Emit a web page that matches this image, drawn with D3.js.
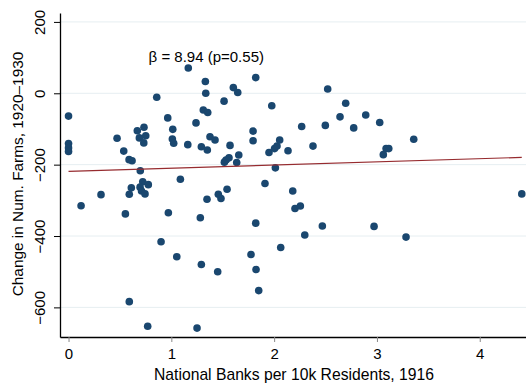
<!DOCTYPE html>
<html>
<head>
<meta charset="utf-8">
<script src="https://cdn.jsdelivr.net/npm/d3@7"></script>
<style>
  html, body { margin: 0; padding: 0; background: #fff; }
  svg { display: block; font-family: "Liberation Sans", Arial, Helvetica, sans-serif; }
</style>
</head>
<body>
<svg id="chart" width="526" height="384"></svg>
<script>
// National banks per 10k residents (1916) for each county
const bankDensity = [
  0.00, 0.00, 0.00, 0.00, 0.122, 0.316, 0.472, 0.537, 0.553, 0.589,
  0.618, 0.591, 0.669, 0.734, 0.751, 0.689, 0.732, 0.698, 0.722, 0.776,
  0.696, 0.710, 0.611, 0.591, 0.744, 0.770, 0.858, 0.900, 0.965, 0.971,
  1.014, 1.010, 1.023, 1.053, 1.088, 1.160, 1.165, 1.240, 1.250, 1.282,
  1.292, 1.292, 1.311, 1.335, 1.331, 1.354, 1.350, 1.347, 1.376, 1.425,
  1.451, 1.457, 1.483, 1.513, 1.516, 1.532, 1.561, 1.542, 1.571, 1.603,
  1.646, 1.636, 1.656, 1.775, 1.795, 1.795, 1.821, 1.821, 1.824, 1.850,
  1.911, 1.950, 1.977, 2.004, 2.028, 2.054, 2.012, 2.064, 2.135, 2.181,
  2.203, 2.255, 2.268, 2.298, 2.378, 2.469, 2.498, 2.521, 2.641, 2.696,
  2.774, 2.891, 2.972, 3.027, 3.062, 3.089, 3.115, 3.283, 3.358, 4.409
];

// Change in number of farms, 1920–1930, same order
const farmChange = [
  -64, -141, -153, -163, -315, -284, -126, -162, -338, -186,
  -189, -584, -105, -95, -119, -125, -139, -217, -248, -256,
  -263, -274, -265, -283, -282, -653, -11, -416, -69, -335,
  -101, -128, -140, -458, -241, -144, 71, -83, -658, -349,
  -480, -150, -47, 0, 33, -54, -159, -297, -122, -131,
  -500, -283, -295, -22, -193, -187, -181, -269, -146, 16,
  2, -194, -173, -452, -106, -133, 44, -364, -494, -553,
  -253, -166, -35, -155, -148, -131, -209, -432, -161, -274,
  -323, -316, -93, -397, -148, -372, -90, 12, -66, -28,
  -97, -61, -373, -82, -172, -155, -155, -403, -129, -282
];

// Fitted OLS line
const fitIntercept = -219;
const fitSlope = 8.94;
const fitPValue = 0.55;

// Axis ticks and titles
const xTicks = [0, 1, 2, 3, 4];
const yTicks = [200, 0, -200, -400, -600];
const xTitle = "National Banks per 10k Residents, 1916";
const yTitle = "Change in Num. Farms, 1920\u20131930";

const points = bankDensity.map((b, i) => ({ x: b, y: farmChange[i] }));

const svg = d3.select("#chart");
const plot = { left: 60, right: 526, top: 13, bottom: 337 };

const x = d3.scaleLinear().domain([-0.083, 4.45]).range([plot.left, plot.right]);
const y = d3.scaleLinear().domain([-683, 225]).range([plot.bottom, plot.top]);

const navy = "#1a476f";
const maroon = "#962b2f";

// Horizontal grid lines
svg.append("g")
  .selectAll("line")
  .data(yTicks)
  .join("line")
  .attr("x1", plot.left)
  .attr("x2", plot.right)
  .attr("y1", d => y(d))
  .attr("y2", d => y(d))
  .attr("stroke", "#e6eef1")
  .attr("stroke-width", 1);

// Y axis
const yAxis = svg.append("g")
  .attr("transform", `translate(${plot.left},0)`)
  .call(d3.axisLeft(y).tickValues(yTicks).tickSize(6).tickSizeOuter(0).tickFormat(d3.format("d")));
yAxis.select(".domain").attr("stroke", "#000").attr("stroke-width", 1.3);
yAxis.selectAll(".tick line").attr("stroke", "#000").attr("stroke-width", 1);
yAxis.selectAll(".tick text")
  .attr("x", 0).attr("y", 0).attr("dy", 0)
  .attr("transform", "translate(-15,0) rotate(-90)")
  .attr("text-anchor", "middle")
  .attr("font-size", 15)
  .attr("fill", "#000")
  .text(d => d3.format("d")(d).replace("-", "\u2212"));

// X axis
const xAxis = svg.append("g")
  .attr("transform", `translate(0,${plot.bottom})`)
  .call(d3.axisBottom(x).tickValues(xTicks).tickSize(5).tickSizeOuter(0).tickFormat(d3.format("d")));
xAxis.select(".domain").attr("stroke", "#000").attr("stroke-width", 1.3);
xAxis.selectAll(".tick line").attr("stroke", "#888").attr("stroke-width", 1);
xAxis.selectAll(".tick text")
  .attr("y", 22).attr("dy", 0)
  .attr("font-size", 15)
  .attr("fill", "#000");

// Axis titles
svg.append("text")
  .attr("x", (plot.left + plot.right) / 2 + 1)
  .attr("y", 379.5)
  .attr("text-anchor", "middle")
  .attr("font-size", 15.7)
  .attr("fill", "#000")
  .text(xTitle);

svg.append("text")
  .attr("transform", `translate(23,${(plot.top + plot.bottom) / 2 - 1}) rotate(-90)`)
  .attr("text-anchor", "middle")
  .attr("font-size", 15.4)
  .attr("fill", "#000")
  .text(yTitle);

// Scatter points
svg.append("g")
  .selectAll("circle")
  .data(points)
  .join("circle")
  .attr("cx", d => x(d.x))
  .attr("cy", d => y(d.y))
  .attr("r", 3.8)
  .attr("fill", navy);

// Fitted line across the observed range
const xExtent = d3.extent(bankDensity);
svg.append("line")
  .attr("x1", x(xExtent[0]))
  .attr("y1", y(fitIntercept + fitSlope * xExtent[0]))
  .attr("x2", x(xExtent[1]))
  .attr("y2", y(fitIntercept + fitSlope * xExtent[1]))
  .attr("stroke", maroon)
  .attr("stroke-width", 1.2);

// Coefficient annotation
svg.append("text")
  .attr("x", x(1.34))
  .attr("y", y(87))
  .attr("text-anchor", "middle")
  .attr("font-size", 15)
  .attr("fill", "#000")
  .text(`\u03b2 = ${fitSlope.toFixed(2)} (p=${fitPValue.toFixed(2)})`);
</script>
</body>
</html>
